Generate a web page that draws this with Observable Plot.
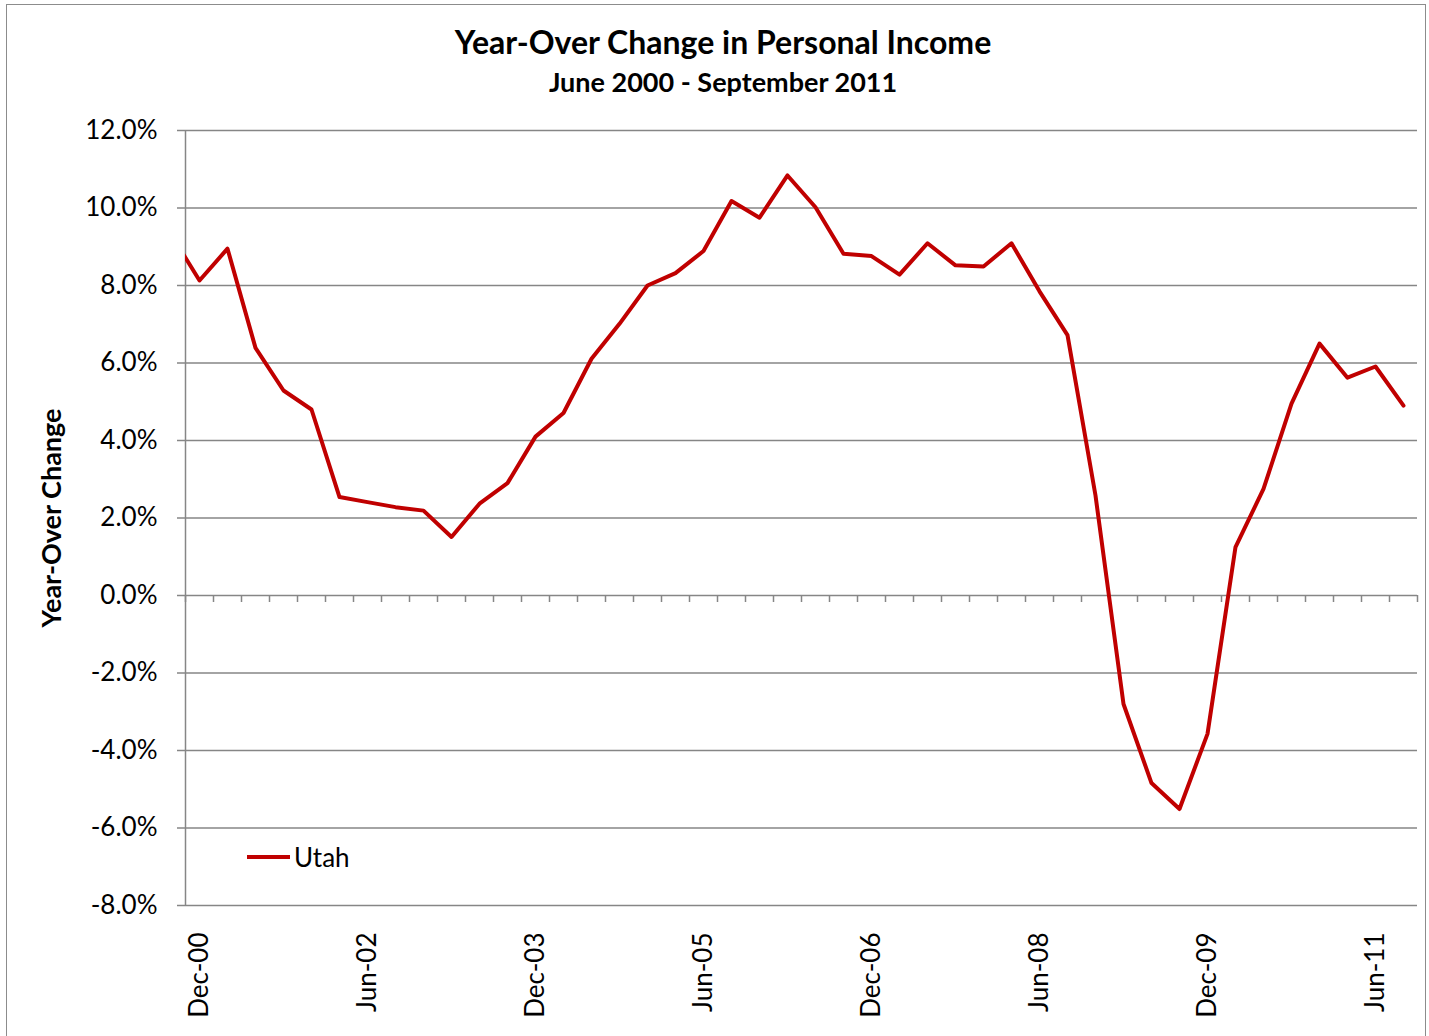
<!DOCTYPE html>
<html>
<head>
<meta charset="utf-8">
<script src="https://cdn.jsdelivr.net/npm/d3@7"></script>
<script src="https://cdn.jsdelivr.net/npm/@observablehq/plot@0.6"></script>
<style>
  body { margin: 0; background: #fff; font-family: Lato, "Liberation Sans", sans-serif; color: #000; }
  #chart { position: relative; width: 1429px; height: 1036px; overflow: hidden; background: #fff; }
  #border { position: absolute; left: 6px; top: 4px; width: 1420px; height: 1100px; border: 1.5px solid #8c8c8c; box-sizing: border-box; }
  #title { position: absolute; left: 0; top: 22px; width: 1446px; text-align: center; font-weight: bold; font-size: 32px; line-height: 40px; }
  #subtitle { position: absolute; left: 0; top: 66px; width: 1446px; text-align: center; font-weight: bold; font-size: 27px; line-height: 32px; }
  #plot { position: absolute; left: 0; top: 110px; }
  #legend { position: absolute; left: 247px; top: 842px; display: flex; align-items: center; font-size: 26px; line-height: 30px; }
  #legend .swatch { display: inline-block; width: 43px; height: 4px; background: #C00000; margin-right: 4px; }
</style>
</head>
<body>
<div id="chart">
  <div id="border"></div>
  <div id="title">Year-Over Change in Personal Income</div>
  <div id="subtitle">June 2000 - September 2011</div>
  <div id="plot"></div>
  <div id="legend"><span class="swatch"></span><span>Utah</span></div>
</div>
<script>
// Quarterly categories (Sep-00 lies just before the visible axis range and is clipped)
const quarters = [
  "Sep-00","Dec-00",
  "Mar-01","Jun-01","Sep-01","Dec-01",
  "Mar-02","Jun-02","Sep-02","Dec-02",
  "Mar-03","Jun-03","Sep-03","Dec-03",
  "Mar-04","Jun-04","Sep-04","Dec-04",
  "Mar-05","Jun-05","Sep-05","Dec-05",
  "Mar-06","Jun-06","Sep-06","Dec-06",
  "Mar-07","Jun-07","Sep-07","Dec-07",
  "Mar-08","Jun-08","Sep-08","Dec-08",
  "Mar-09","Jun-09","Sep-09","Dec-09",
  "Mar-10","Jun-10","Sep-10","Dec-10",
  "Mar-11","Jun-11","Sep-11"
];

// Utah year-over change in personal income (%)
const utah = [
  9.3, 8.13,
  8.95, 6.39, 5.29, 4.80,
  2.54, 2.41, 2.28, 2.19,
  1.51, 2.37, 2.90, 4.10,
  4.71, 6.11, 7.01, 8.00,
  8.32, 8.89, 10.18, 9.75,
  10.84, 10.02, 8.82, 8.76,
  8.28, 9.09, 8.52, 8.49,
  9.09, 7.85, 6.72, 2.58,
  -2.80, -4.84, -5.51, -3.57,
  1.25, 2.75, 4.95, 6.50,
  5.62, 5.91, 4.90
];

const yTicks = [-8, -6, -4, -2, 0, 2, 4, 6, 8, 10, 12];
const xTickLabels = ["Dec-00","Jun-02","Dec-03","Jun-05","Dec-06","Jun-08","Dec-09","Jun-11"];

const data = quarters.map((q, i) => ({i, q, v: utah[i]}));
const xDomain = [0.5, quarters.length - 0.5];
const minorTicks = d3.range(xDomain[0], xDomain[1] + 0.001, 1);
const gridColor = "#868686";

const chart = Plot.plot({
  width: 1429,
  height: 926,
  marginLeft: 185,
  marginRight: 12,
  marginTop: 20,
  marginBottom: 131,
  style: {fontFamily: "Lato, 'Liberation Sans', sans-serif", fontSize: "26px", color: "#000", background: "transparent"},
  x: {domain: xDomain, axis: null},
  y: {domain: [yTicks[0], yTicks[yTicks.length - 1]], axis: null},
  marks: [
    Plot.gridY(yTicks, {stroke: gridColor, strokeOpacity: 1, strokeWidth: 1.5}),
    Plot.axisY(yTicks, {tickSize: 8, tickPadding: 20, tickFormat: d => d.toFixed(1) + "%", stroke: gridColor, strokeWidth: 1.5, fontSize: 26, label: null}),
    Plot.ruleX([xDomain[0]], {stroke: gridColor, strokeWidth: 1.5}),
    Plot.ruleX(minorTicks, {y1: 0, y2: 0, insetBottom: -7, stroke: gridColor, strokeWidth: 1.5}),
    Plot.axisX(xTickLabels.map(l => quarters.indexOf(l)), {anchor: "bottom", tickSize: 0, tickPadding: 27, tickRotate: -90, tickFormat: i => quarters[i], fontSize: 26, label: null}),
    Plot.lineY(data, {x: "i", y: "v", stroke: "#C00000", strokeWidth: 4, clip: true}),
    Plot.text(["Year-Over Change"], {frameAnchor: "left", dx: -133, rotate: -90, textAnchor: "middle", fontWeight: "bold", fontSize: 27})
  ]
});
document.getElementById("plot").appendChild(chart);
</script>
</body>
</html>
